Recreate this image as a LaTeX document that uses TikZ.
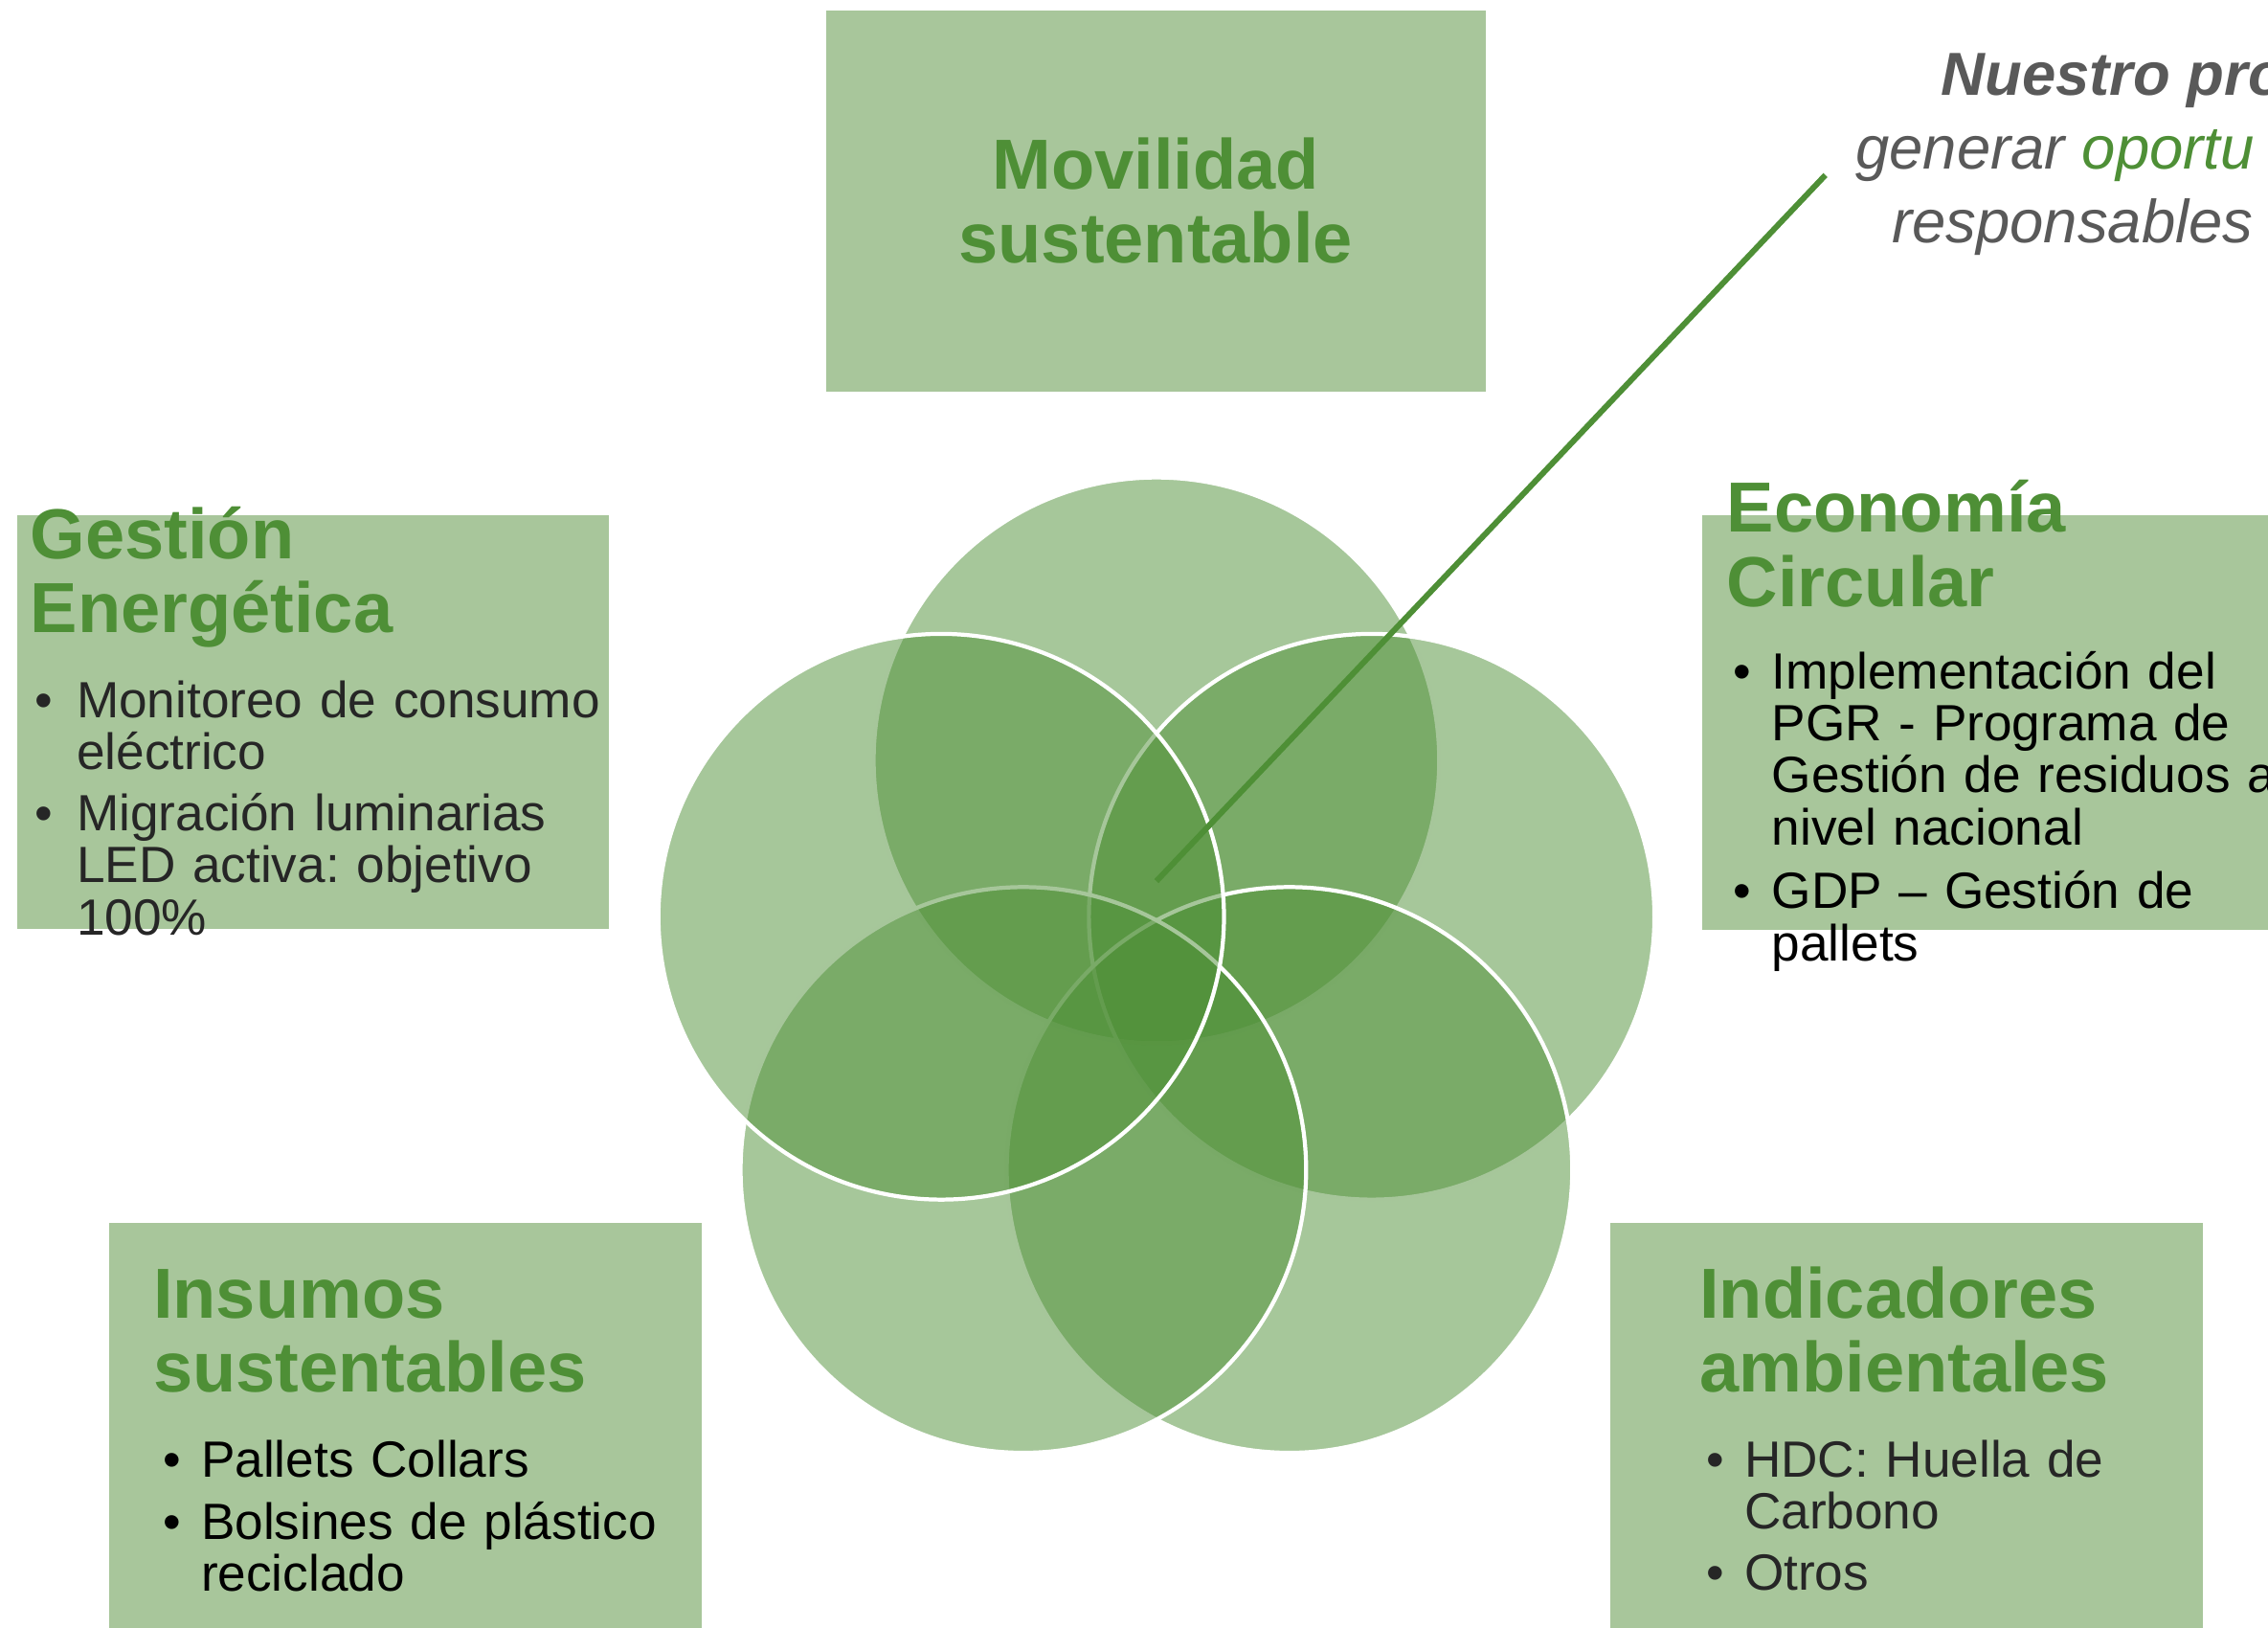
\documentclass[tikz,border=0pt]{standalone}
\usepackage{fontspec}
\setmainfont{Liberation Sans}
\definecolor{boxgreen}{HTML}{A8C69B}
\definecolor{tgreen}{HTML}{4E8F36}
\definecolor{qgray}{HTML}{595959}
\definecolor{dgray}{HTML}{262626}
\newcommand\myhead{\fontsize{36.75pt}{38.25pt}\selectfont\bfseries}
\newcommand\mybody{\fontsize{26.4pt}{27pt}\selectfont}
\newcommand\myquote{\fontsize{31.5pt}{38pt}\selectfont\itshape}
\frenchspacing
\tikzset{
  boxfill/.style={fill=boxgreen},
  venn/.style={circle, inner sep=0pt, outer sep=0pt, minimum size=293.25pt,
    fill=tgreen, fill opacity=0.5, draw=white, draw opacity=1, line width=2.1pt},
  head/.style={anchor=base west, inner sep=0pt, outer sep=0pt, text width=400pt,
    align=left, font=\myhead, text=tgreen},
  headc/.style={anchor=base, inner sep=0pt, outer sep=0pt, text width=400pt,
    align=center, font=\myhead, text=tgreen},
  body/.style={anchor=base west, inner sep=0pt, outer sep=0pt, text width=400pt,
    align=left, font=\mybody\frenchspacing},
  bul/.style={anchor=base west, inner sep=0pt, outer sep=0pt, font=\mybody},
  quote/.style={anchor=base west, inner sep=0pt, outer sep=0pt, font=\myquote, text=qgray},
  link/.style={draw=tgreen, line width=3pt}
}
\begin{document}
\begin{tikzpicture}[x=0.75pt,y=-0.75pt]
\useasboundingbox (0,0) rectangle (1568,1125);
% boxes
\path[boxfill] (571,7.3) rectangle (1027,271);
\path[boxfill] (12,356) rectangle (421,642);
\path[boxfill] (1177,356) rectangle (1580,643);
\path[boxfill] (75.4,845) rectangle (485,1135);
\path[boxfill] (1113.6,845) rectangle (1523,1135);
% venn circles (clockwise from top)
\node[venn] (cTop) at (799.5,525.5) {};
\node[venn] (cRight) at (948.3,633.6) {};
\node[venn] (cBR) at (891.5,808.6) {};
\node[venn] (cBL) at (707.5,808.6) {};
\node[venn] (cLeft) at (650.7,633.6) {};
% connector
\coordinate (lineStart) at (799.5,609);
\coordinate (lineEnd) at (1262,121);
\draw[link] (lineStart) -- (lineEnd);
% Movilidad
\node[headc] (hMov) at (799,131) {Movilidad\\sustentable};
% Gestion
\node[head] (hGes) at (21,386) {Gestión\\Energética};
\node[bul, text=dgray] (bGes1) at (24,496) {•};
\node[body, text=dgray] (tGes1) at (53,496) {Monitoreo de consumo\\eléctrico};
\node[bul, text=dgray] (bGes2) at (24,574) {•};
\node[body, text=dgray] (tGes2) at (53,574) {Migración luminarias\\LED activa: objetivo\\100\%};
% Economia
\node[head] (hEco) at (1194,368) {Economía\\Circular};
\node[bul] (bEco1) at (1198,476) {•};
\node[body] (tEco1) at (1225,476) {Implementación del\\PGR - Programa de\\Gestión de residuos a\\nivel nacional};
\node[bul] (bEco2) at (1198,628) {•};
\node[body] (tEco2) at (1225,628) {GDP – Gestión de\\pallets};
% Insumos
\node[head] (hIns) at (106,911) {Insumos\\sustentables};
\node[bul] (bIns1) at (113,1021) {•};
\node[body] (tIns1) at (139,1021) {Pallets Collars};
\node[bul] (bIns2) at (113,1064) {•};
\node[body] (tIns2) at (139,1064) {Bolsines de plástico\\reciclado};
% Indicadores
\node[head] (hInd) at (1175,911) {Indicadores\\ambientales};
\node[bul, text=dgray] (bInd1) at (1180,1021) {•};
\node[body, text=dgray] (tInd1) at (1206,1021) {HDC: Huella de\\Carbono};
\node[bul, text=dgray] (bInd2) at (1180,1099) {•};
\node[body, text=dgray] (tInd2) at (1206,1099) {Otros};
% quote
\node[quote, font=\myquote\bfseries] (q1) at (1342,66) {Nuestro pro};
\node[quote] (q2) at (1283,117) {generar \textcolor{tgreen}{oportu}};
\node[quote] (q3) at (1308,168) {responsables};
\end{tikzpicture}
\end{document}
